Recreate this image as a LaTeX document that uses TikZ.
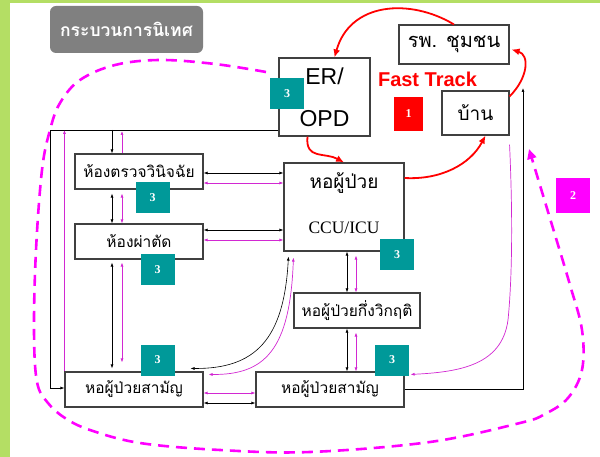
\documentclass[tikz,border=0pt]{standalone}
\usepackage{fontspec}
\usepackage{xcolor}
\usepackage{tikz}
\usetikzlibrary{arrows.meta}
\setmainfont{Liberation Serif}
\newfontfamily\thai[Script=Thai]{Loma}
\newfontfamily\arial{Liberation Sans}
\definecolor{vertfond}{RGB}{180,222,100}
\definecolor{sarcelle}{RGB}{0,153,153}
\definecolor{rose}{RGB}{210,40,210}
\definecolor{fuchsia}{RGB}{255,0,255}
\definecolor{grisfond}{RGB}{128,128,128}
\definecolor{rouge}{RGB}{255,0,0}
\def\largeur{600}
\def\hauteur{457}
\tikzset{
  >={Latex[length=4pt,width=3pt]},
  boite/.style={draw=black!75, line width=1.1pt, fill=white, inner sep=1pt,
    font=\thai\fontsize{15.5}{18}\selectfont},
  badge/.style={fill=sarcelle, text=white, inner sep=0pt,
    minimum width=34, minimum height=31, font=\bfseries\fontsize{12}{14}\selectfont},
  fn/.style={black, line width=0.6pt},
  fr/.style={rose, line width=0.7pt},
  fleche/.style={rouge, line width=1.8pt, -{Latex[length=8pt,width=7pt]}},
  boucle/.style={fuchsia, line width=2.6pt, dash pattern=on 11pt off 7pt,
    -{Triangle[length=10pt,width=9pt]}}
}

\begin{document}
\begin{tikzpicture}[x=1pt, y=-1pt]
\useasboundingbox (0,0) rectangle (\largeur,\hauteur);
\fill[vertfond] (0,0) rectangle (\largeur,\hauteur);
\fill[white] (10,3) rectangle (\largeur,\hauteur);

% boucle de supervision (2)
\draw[boucle] plot[smooth, tension=0.6] coordinates {(266,72) (215,64) (160,60)
  (115,65) (80,80) (60,103) (50,130) (42,170) (36,250) (34,330) (37,382) (48,403)
  (65,418) (90,430) (140,443) (220,450) (310,452) (430,442) (520,423) (545,414)
  (568,398) (582,370) (582,330) (570,285) (552,225) (529,149)};

% titre
\node[fill=grisfond, rounded corners=6pt, minimum width=153, minimum height=47,
  text=white, font=\thai\bfseries\fontsize{17.5}{20}\selectfont] (titre) at (126.5,29.5) {กระบวนการนิเทศ};

% les boites
\node[boite, minimum width=91, minimum height=78, align=center,
  font=\arial\fontsize{23}{27}\selectfont] (opd) at (324.5,97) {ER/\\[15pt]OPD};
\node[boite, minimum width=110, minimum height=39,
  font=\thai\fontsize{20}{23}\selectfont] (rph) at (454,44.5) {รพ. ชุมชน};
\node[boite, minimum width=67, minimum height=44,
  font=\thai\fontsize{19}{22}\selectfont] (ban) at (475.5,113) {บ้าน};
\node[boite, minimum width=128, minimum height=35] (diag) at (139,171.5) {ห้องตรวจวินิจฉัย};
\node[boite, minimum width=128, minimum height=35] (chir) at (139,241.5) {ห้องผ่าตัด};
\node[boite, minimum width=120, minimum height=88] (icu) at (344,207) {};
\node[font=\thai\fontsize{19}{22}\selectfont] (icut) at (344,183) {หอผู้ป่วย};
\node[font=\fontsize{17.5}{20}\selectfont] (icub) at (344,228) {CCU/ICU};
\node[boite, minimum width=126, minimum height=35] (crit) at (357,310.5) {หอผู้ป่วยกึ่งวิกฤติ};
\node[boite, minimum width=138, minimum height=35] (sam1) at (134,389.5) {หอผู้ป่วยสามัญ};
\node[boite, minimum width=148, minimum height=35] (sam2) at (330,389.5) {หอผู้ป่วยสามัญ};

% reperes
\coordinate (hautG) at (50,130);
\coordinate (basG) at (50,388);
\coordinate (colN) at (112,0);
\coordinate (colR) at (122,0);
\coordinate (colN2) at (347,0);
\coordinate (colR2) at (356,0);
\coordinate (ligN1) at (0,173);
\coordinate (ligR1) at (0,183);
\coordinate (ligN2) at (0,230);
\coordinate (ligR2) at (0,240);
\coordinate (ligR3) at (0,393);
\coordinate (ligN3) at (0,403);
\coordinate (flecheD) at (523,88);

% fleches fines
\draw[fn,->] (opd.south west |- hautG) -- (hautG) -- (basG) -- (basG -| sam1.west);
\draw[fr,->] (sam1.north west) -- (sam1.north west |- hautG);
\draw[fn,->] (hautG -| colN) -- (diag.north -| colN);
\draw[fr,->] (diag.north -| colR) -- ([yshift=-1pt]hautG -| colR);
\draw[fn,<->,shorten <=4pt] (diag.south -| colN) -- (chir.north -| colN);
\draw[fr,<->,shorten <=4pt] (diag.south -| colR) -- (chir.north -| colR);
\draw[fn,<->,shorten <=3pt,shorten >=3pt] (chir.south -| colN) -- (sam1.north -| colN);
\draw[fr,<->,shorten <=3pt,shorten >=9pt] (chir.south -| colR) -- (sam1.north -| colR);
\draw[fn,<->] (diag.east |- ligN1) -- (icu.west |- ligN1);
\draw[fr,<->] (diag.east |- ligR1) -- (icu.west |- ligR1);
\draw[fn,<->] (chir.east |- ligN2) -- (icu.west |- ligN2);
\draw[fr,<->] (chir.east |- ligR2) -- (icu.west |- ligR2);
\draw[fn,<->] (icu.south -| colN2) -- (crit.north -| colN2);
\draw[fr,<->,shorten <=4pt] (icu.south -| colR2) -- (crit.north -| colR2);
\draw[fn,<->] (crit.south -| colN2) -- (sam2.north -| colN2);
\draw[fr,<->,shorten <=4pt] (crit.south -| colR2) -- (sam2.north -| colR2);
\draw[fr,<->] (sam1.east |- ligR3) -- (sam2.west |- ligR3);
\draw[fn,<->] (sam1.east |- ligN3) -- (sam2.west |- ligN3);
\draw[fn,<->] ([xshift=5pt,yshift=-5pt]icu.south west) .. controls (284,340) and (255,369) .. ([xshift=-13pt,yshift=3pt]sam1.north east);
\draw[fr,<->] ([xshift=10pt,yshift=-6pt]icu.south west) .. controls (290,350) and (265,375) .. ([xshift=5pt,yshift=-3pt]sam1.north east);
\draw[fr,->] ([yshift=-9pt]ban.south east) .. controls (513,220) and (512,280) .. (508,320)
  .. controls (502,365) and (460,372) .. ([xshift=6pt,yshift=-3pt]sam2.north east);
\draw[fn,->] (sam2.east) -- (sam2.east -| flecheD) -- (flecheD);

% fast track
\draw[fleche] (rph.north) .. controls (410,-2) and (350,2) .. ([xshift=10pt]opd.north);
\draw[fleche] ([yshift=-6pt]ban.north east) .. controls (528,78) and (530,55) .. ([xshift=2pt,yshift=-5pt]rph.east);
\draw[fleche] ([xshift=-17pt]opd.south) .. controls (305,160) and (325,152) .. (icu.north);
\draw[fleche] ([yshift=29pt]icu.east) .. controls (440,180) and (470,165) .. ([xshift=10pt]ban.south);
\node[rouge, font=\arial\bfseries\fontsize{20}{24}\selectfont] (fast) at (427.5,79.5) {Fast Track};

% pastilles
\node[badge] (p0) at (287,93.5) {3};
\node[badge] (p1) at (152.5,198) {3};
\node[badge] (p2) at (157.5,270) {3};
\node[badge] (p3) at (397,255) {3};
\node[badge] (p4) at (392,360) {3};
\node[badge] (p5) at (157.5,360) {3};
\node[badge, fill=rouge, minimum width=29, minimum height=34] (un) at (408.5,114) {1};
\node[badge, fill=fuchsia, minimum width=34, minimum height=35] (deux) at (573,195.5) {2};
\end{tikzpicture}
\end{document}
